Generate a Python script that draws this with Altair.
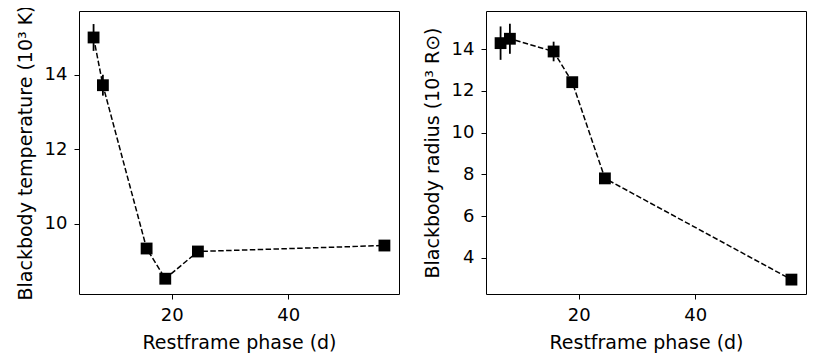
import altair as alt
import pandas as pd

phase = [6.6, 8.2, 15.7, 18.9, 24.5, 56.5]
temp = [15.0, 13.72, 9.34, 8.53, 9.26, 9.42]
temp_err = [0.36, 0.28, 0.1, 0.08, 0.08, 0.08]
radius = [14.29, 14.5, 13.89, 12.42, 7.81, 2.96]
radius_err = [0.8, 0.72, 0.47, 0.2, 0.1, 0.05]

df = pd.DataFrame({
    "phase": phase,
    "T": temp,
    "T_lo": [t - e for t, e in zip(temp, temp_err)],
    "T_hi": [t + e for t, e in zip(temp, temp_err)],
    "R": radius,
    "R_lo": [r - e for r, e in zip(radius, radius_err)],
    "R_hi": [r + e for r, e in zip(radius, radius_err)],
})

FONT = "DejaVu Sans"
xscale = alt.Scale(domain=[4.1, 59.0], nice=False, zero=False)
xaxis = alt.Axis(values=[20, 40], title="Restframe phase (d)", format="d")


def panel(col, lo, hi, ydomain, yticks, ytitle):
    base = alt.Chart(df)
    yscale = alt.Scale(domain=ydomain, nice=False, zero=False)
    x = alt.X("phase:Q", scale=xscale, axis=xaxis)
    y = alt.Y(f"{col}:Q", scale=yscale,
              axis=alt.Axis(values=yticks, title=ytitle, format="d"))
    line = base.mark_line(color="black", strokeWidth=1.5,
                          strokeDash=[5.5, 2.4]).encode(x=x, y=y)
    err = base.mark_rule(color="black", strokeWidth=1.8).encode(
        x=alt.X("phase:Q", scale=xscale),
        y=alt.Y(f"{lo}:Q", scale=yscale),
        y2=f"{hi}:Q",
    )
    pts = base.mark_point(shape="square", filled=True, color="black",
                          size=140, opacity=1).encode(x=x, y=y)
    return alt.layer(line, err, pts).properties(width=320, height=283)


left = panel("T", "T_lo", "T_hi", [8.12, 15.71], [10, 12, 14],
             "Blackbody temperature (10³ K)")
right = panel("R", "R_lo", "R_hi", [2.27, 15.83], [4, 6, 8, 10, 12, 14],
              "Blackbody radius (10³ R⊙)")

chart = alt.hconcat(left, right, spacing=22).properties(
    padding={"left": 7, "top": -4, "right": 5, "bottom": 5}
).configure_view(
    stroke="black", strokeWidth=1
).configure_axis(
    grid=False,
    domain=False,
    tickColor="black",
    tickSize=5,
    tickWidth=1,
    labelFont=FONT,
    labelFontSize=18,
    labelColor="black",
    labelPadding=7,
    titleFont=FONT,
    titleFontSize=19,
    titleFontWeight="normal",
    titleColor="black",
    titlePadding=9,
)

chart.save("out.html", embed_options={"renderer": "svg", "actions": False})
